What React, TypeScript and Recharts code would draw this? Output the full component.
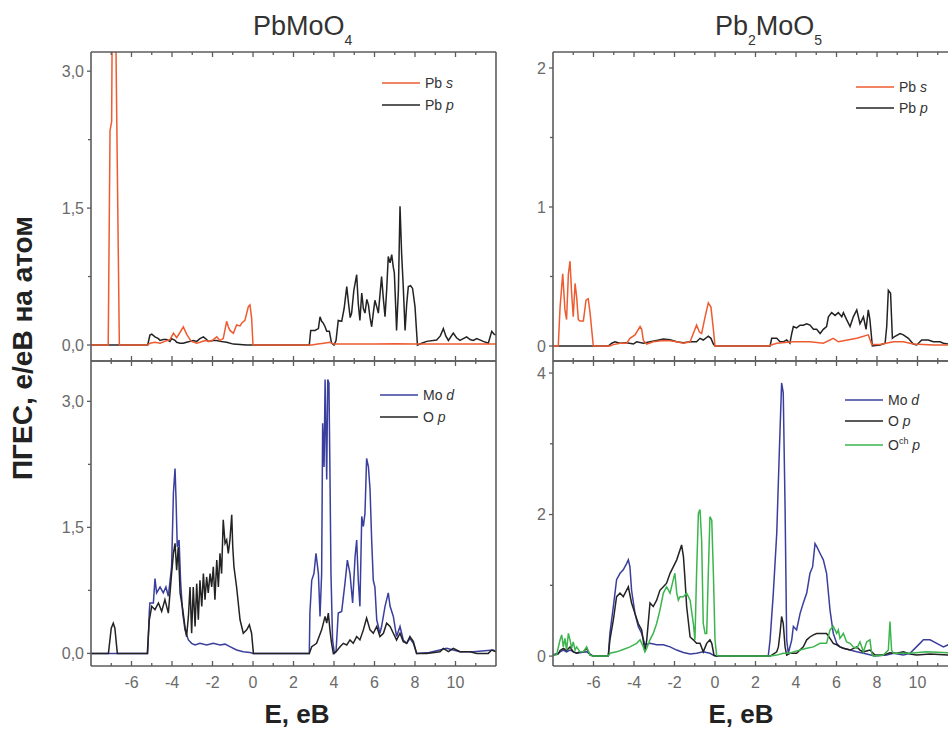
import React from 'react';
import { LineChart, Line, XAxis, YAxis } from 'recharts';

type Pt = [number, number];

// energy axis, eV
const energyTicks = [-7, -6, -5, -4, -3, -2, -1, 0, 1, 2, 3, 4, 5, 6, 7, 8, 9, 10, 11];

// PbMoO4, Pb states
const pbmoo4PbS: Pt[] = [
  [-8, 0], [-7.15, 0], [-7.06, 2.35], [-6.98, 2.45], [-6.93, 4.4], [-6.85, 4.3], [-6.77, 3.3], [-6.6, 0],
  [-5.2, 0], [-5.09, 0.02], [-4.84, 0.03], [-4.59, 0.02], [-4.35, 0.04], [-4.1, 0.06], [-3.93, 0.13],
  [-3.77, 0.08], [-3.6, 0.14], [-3.44, 0.2], [-3.28, 0.12], [-3.11, 0.06], [-3.03, 0.04], [-2.78, 0.02],
  [-2.62, 0.03], [-2.37, 0.05], [-2.12, 0.04], [-1.96, 0.06], [-1.79, 0.09], [-1.63, 0.05], [-1.47, 0.07],
  [-1.3, 0.26], [-1.22, 0.2], [-1.14, 0.16], [-0.97, 0.13], [-0.81, 0.22], [-0.64, 0.21], [-0.56, 0.24],
  [-0.4, 0.27], [-0.23, 0.42], [-0.15, 0.44], [-0.07, 0.3], [0, 0], [2.9, 0], [3.2, 0.01], [3.5, 0.02],
  [3.8, 0.03], [4.0, 0.01], [5, 0.01], [6, 0.01], [7, 0.015], [8, 0.01], [9, 0.01], [10, 0.01], [11, 0.01], [12, 0.01],
];
const pbmoo4PbP: Pt[] = [
  [-8, 0], [-5.2, 0], [-5.09, 0.11], [-5.0, 0.12], [-4.84, 0.09], [-4.67, 0.07], [-4.59, 0.05], [-4.43, 0.06],
  [-4.26, 0.06], [-4.1, 0.04], [-4.02, 0.07], [-3.85, 0.05], [-3.77, 0.03], [-3.6, 0.02], [-3.44, 0.02],
  [-3.28, 0.03], [-3.11, 0.04], [-2.95, 0.05], [-2.78, 0.04], [-2.62, 0.07], [-2.45, 0.09], [-2.29, 0.06],
  [-2.21, 0.04], [-1.96, 0.05], [-1.79, 0.05], [-1.63, 0.04], [-1.3, 0.03], [-0.97, 0.01], [-0.64, 0.005],
  [-0.31, 0], [2.78, 0], [2.85, 0.16], [3.06, 0.16], [3.23, 0.18], [3.31, 0.31], [3.39, 0.26], [3.47, 0.24],
  [3.56, 0.2], [3.64, 0.15], [3.77, 0.15], [3.88, 0.02], [4.0, 0], [4.1, 0.05], [4.21, 0.27], [4.38, 0.26],
  [4.5, 0.4], [4.63, 0.64], [4.72, 0.45], [4.8, 0.3], [4.87, 0.35], [4.98, 0.6], [5.12, 0.77], [5.2, 0.45],
  [5.28, 0.27], [5.37, 0.57], [5.45, 0.4], [5.53, 0.35], [5.62, 0.5], [5.7, 0.44], [5.78, 0.3], [5.86, 0.2],
  [5.94, 0.35], [6.02, 0.49], [6.11, 0.42], [6.19, 0.35], [6.27, 0.55], [6.35, 0.75], [6.44, 0.5],
  [6.52, 0.31], [6.6, 0.6], [6.68, 0.97], [6.77, 0.9], [6.85, 0.99], [6.93, 0.85], [6.98, 0.79], [7.05, 0.4],
  [7.09, 0.16], [7.18, 0.6], [7.26, 1.52], [7.34, 1.0], [7.42, 0.64], [7.51, 0.16], [7.59, 0.45], [7.67, 0.64],
  [7.78, 0.65], [7.88, 0.62], [8.0, 0.42], [8.12, 0], [8.33, 0.02], [8.58, 0.04], [9.07, 0.055], [9.25, 0.1],
  [9.4, 0.18], [9.52, 0.1], [9.65, 0.05], [9.89, 0.13], [10.05, 0.08], [10.22, 0.05], [10.55, 0.09],
  [10.72, 0.06], [10.88, 0.05], [11.05, 0.07], [11.37, 0.04], [11.62, 0.02], [11.79, 0.15], [11.9, 0.12], [12, 0.11],
];

// PbMoO4, Mo and O states
const pbmoo4MoD: Pt[] = [
  [-8, 0], [-5.2, 0], [-5.12, 0.5], [-5.09, 0.6], [-4.92, 0.6], [-4.84, 0.89], [-4.76, 0.72], [-4.59, 0.79],
  [-4.43, 0.72], [-4.3, 0.79], [-4.18, 0.68], [-4.02, 1.03], [-3.93, 1.91], [-3.85, 2.2], [-3.8, 1.83],
  [-3.74, 1.27], [-3.65, 1.35], [-3.57, 0.83], [-3.47, 0.48], [-3.36, 0.28], [-3.19, 0.16], [-3.03, 0.12],
  [-2.86, 0.1], [-2.62, 0.12], [-2.29, 0.1], [-1.96, 0.12], [-1.63, 0.1], [-1.38, 0.11], [-1.14, 0.08],
  [-0.81, 0.04], [-0.48, 0.02], [-0.15, 0.01], [0.02, 0], [2.78, 0], [2.81, 0.48], [2.9, 0.87], [3.01, 0.95],
  [3.11, 1.19], [3.23, 0.95], [3.31, 0.44], [3.39, 0.95], [3.44, 2.74], [3.51, 2.22], [3.56, 3.26],
  [3.64, 2.07], [3.69, 3.26], [3.75, 3.22], [3.8, 2.15], [3.85, 0.95], [3.93, 0.16], [4.02, 0], [4.1, 0.02],
  [4.21, 0.48], [4.38, 0.5], [4.54, 0.83], [4.66, 1.11], [4.79, 0.95], [4.92, 0.6], [5.04, 1.15], [5.12, 1.35],
  [5.2, 0.87], [5.28, 0.56], [5.37, 1.63], [5.45, 1.51], [5.53, 1.67], [5.61, 2.32], [5.7, 2.22], [5.78, 1.95],
  [5.86, 1.35], [5.94, 0.87], [6.02, 0.79], [6.11, 0.4], [6.19, 0.32], [6.27, 0.24], [6.35, 0.32], [6.52, 0.56],
  [6.68, 0.72], [6.77, 0.56], [6.93, 0.44], [7.09, 0.2], [7.26, 0.32], [7.42, 0.16], [7.59, 0.12], [7.75, 0.18],
  [7.92, 0.12], [8.08, 0], [8.7, 0.01], [9.23, 0.04], [9.56, 0.06], [9.89, 0.04], [10.22, 0.02], [10.88, 0.02],
  [11.87, 0.04], [12, 0.02],
];
const pbmoo4OP: Pt[] = [
  [-8, 0], [-7.14, 0], [-7.0, 0.3], [-6.9, 0.36], [-6.82, 0.3], [-6.7, 0], [-5.22, 0], [-5.12, 0.4], [-5.0, 0.56],
  [-4.84, 0.52], [-4.67, 0.6], [-4.51, 0.5], [-4.35, 0.64], [-4.18, 0.48], [-4.02, 0.95], [-3.93, 1.19],
  [-3.85, 1.31], [-3.77, 0.99], [-3.69, 1.27], [-3.6, 0.72], [-3.47, 0.52], [-3.36, 0.32], [-3.28, 0.2],
  [-3.19, 0.44], [-3.11, 0.79], [-3.03, 0.24], [-2.95, 0.79], [-2.86, 0.32], [-2.78, 0.83], [-2.7, 0.4],
  [-2.62, 0.87], [-2.53, 0.56], [-2.45, 0.95], [-2.37, 0.64], [-2.29, 0.91], [-2.21, 0.72], [-2.12, 0.95],
  [-2.04, 0.79], [-1.96, 1.03], [-1.88, 0.64], [-1.79, 1.11], [-1.71, 0.79], [-1.63, 1.19], [-1.55, 0.95],
  [-1.47, 1.59], [-1.38, 1.31], [-1.3, 1.35], [-1.22, 1.19], [-1.14, 1.35], [-1.05, 1.65], [-1.0, 1.27],
  [-0.94, 1.03], [-0.81, 0.79], [-0.64, 0.4], [-0.48, 0.24], [-0.31, 0.28], [-0.18, 0.34], [-0.07, 0.24],
  [0.02, 0], [2.78, 0], [2.9, 0.08], [3.14, 0.12], [3.39, 0.28], [3.56, 0.44], [3.64, 0.36], [3.72, 0.48],
  [3.8, 0.28], [3.88, 0.12], [3.97, 0], [4.1, 0.02], [4.3, 0.08], [4.46, 0.12], [4.63, 0.1], [4.79, 0.16],
  [4.95, 0.12], [5.12, 0.2], [5.28, 0.16], [5.45, 0.28], [5.61, 0.42], [5.78, 0.28], [5.94, 0.24], [6.11, 0.32],
  [6.27, 0.2], [6.44, 0.24], [6.6, 0.36], [6.77, 0.32], [6.93, 0.24], [7.09, 0.16], [7.26, 0.24], [7.42, 0.14],
  [7.59, 0.12], [7.75, 0.2], [7.92, 0.14], [8.08, 0], [8.58, 0], [9.23, 0.02], [9.4, 0.06], [9.65, 0.02],
  [9.89, 0.06], [10.22, 0.02], [10.72, 0.02], [11.05, 0], [11.62, 0], [11.79, 0.04], [12, 0.02],
];

// Pb2MoO5, Pb states
const pb2moo5PbS: Pt[] = [
  [-8, 0], [-7.74, 0], [-7.65, 0.28], [-7.52, 0.52], [-7.41, 0.26], [-7.33, 0.19], [-7.24, 0.52], [-7.16, 0.61],
  [-7.08, 0.38], [-7.0, 0.21], [-6.91, 0.45], [-6.83, 0.35], [-6.75, 0.19], [-6.67, 0.18], [-6.5, 0.18],
  [-6.37, 0.33], [-6.26, 0.34], [-6.17, 0.24], [-6.01, 0], [-5.19, 0], [-5.02, 0.01], [-4.69, 0.02],
  [-4.36, 0.02], [-4.2, 0.055], [-3.95, 0.08], [-3.7, 0.14], [-3.62, 0.12], [-3.54, 0.04], [-3.37, 0.014],
  [-3.05, 0.03], [-2.55, 0.04], [-2.22, 0.038], [-1.89, 0.03], [-1.56, 0.02], [-1.23, 0.03], [-0.99, 0.12],
  [-0.91, 0.15], [-0.77, 0.1], [-0.66, 0.09], [-0.49, 0.21], [-0.33, 0.31], [-0.2, 0.28], [-0.08, 0.12],
  [0, 0], [2.63, 0], [3.05, 0.02], [3.87, 0.03], [4.69, 0.03], [5.35, 0.02], [5.84, 0.055], [6.09, 0.03],
  [7.0, 0.055], [7.57, 0.08], [7.74, 0.01], [8.15, 0.01], [8.81, 0.03], [9.3, 0.03], [9.79, 0.015],
  [10.78, 0.007], [11.51, 0.007], [12, 0.007],
];
const pb2moo5PbP: Pt[] = [
  [-8, 0], [-5.27, 0], [-5.1, 0.02], [-4.94, 0.03], [-4.69, 0.02], [-4.36, 0.024], [-4.03, 0.014], [-3.87, 0.03],
  [-3.54, 0.02], [-3.21, 0.03], [-2.88, 0.04], [-2.55, 0.05], [-2.22, 0.045], [-1.89, 0.03], [-1.56, 0.024],
  [-1.23, 0.03], [-0.91, 0.03], [-0.74, 0.055], [-0.58, 0.043], [-0.33, 0.07], [-0.2, 0.055], [-0.08, 0.014],
  [0, 0], [2.72, 0], [2.8, 0.055], [3.05, 0.055], [3.21, 0.03], [3.37, 0.03], [3.54, 0.043], [3.7, 0.02],
  [3.79, 0.09], [3.87, 0.14], [4.03, 0.13], [4.2, 0.15], [4.36, 0.15], [4.53, 0.16], [4.69, 0.15], [4.86, 0.12],
  [5.02, 0.12], [5.19, 0.09], [5.35, 0.12], [5.51, 0.14], [5.6, 0.21], [5.76, 0.24], [5.93, 0.22], [6.09, 0.24],
  [6.26, 0.21], [6.34, 0.24], [6.5, 0.19], [6.67, 0.14], [6.83, 0.21], [7.0, 0.26], [7.16, 0.16], [7.33, 0.21],
  [7.46, 0.12], [7.57, 0.26], [7.65, 0.19], [7.77, 0], [8.15, 0.007], [8.4, 0.02], [8.48, 0.14], [8.56, 0.4],
  [8.67, 0.38], [8.76, 0.055], [8.89, 0.07], [9.14, 0.09], [9.3, 0.08], [9.55, 0.055], [9.79, 0.014],
  [9.96, 0.007], [10.21, 0.043], [10.53, 0.043], [10.78, 0.03], [11.11, 0.03], [11.28, 0.02], [11.51, 0.014], [12, 0.014],
];

// Pb2MoO5, Mo and O states (O^ch: chain oxygen)
const pb2moo5MoD: Pt[] = [
  [-8, 0.02], [-7.74, 0.04], [-7.65, 0.06], [-7.49, 0.085], [-7.33, 0.06], [-7.16, 0.085], [-6.83, 0.04],
  [-6.34, 0.06], [-6.01, 0], [-5.27, 0], [-5.19, 0.32], [-5.02, 0.7], [-4.86, 1.08], [-4.69, 1.17],
  [-4.53, 1.22], [-4.36, 1.31], [-4.28, 1.36], [-4.2, 1.26], [-4.12, 0.93], [-3.95, 0.6], [-3.79, 0.42],
  [-3.62, 0.32], [-3.46, 0.16], [-3.21, 0.18], [-2.88, 0.16], [-2.55, 0.16], [-2.22, 0.13], [-1.89, 0.085],
  [-1.56, 0.05], [-1.23, 0.03], [-0.91, 0.04], [-0.58, 0.06], [-0.25, 0.04], [0, 0], [2.63, 0], [2.72, 0.23],
  [2.88, 0.89], [3.05, 1.74], [3.18, 2.92], [3.29, 3.86], [3.37, 3.72], [3.46, 2.11], [3.54, 0.23], [3.62, 0.04],
  [3.79, 0.23], [3.87, 0.42], [4.03, 0.37], [4.2, 0.6], [4.36, 0.75], [4.53, 0.89], [4.69, 1.17], [4.82, 1.26],
  [4.94, 1.59], [5.02, 1.55], [5.19, 1.45], [5.35, 1.36], [5.51, 1.17], [5.68, 0.65], [5.84, 0.32], [6.01, 0.18],
  [6.17, 0.13], [6.34, 0.11], [6.67, 0.085], [7.0, 0.06], [7.33, 0.04], [7.9, 0], [8.48, 0.014], [8.81, 0.04],
  [9.3, 0.014], [9.63, 0.04], [10.12, 0.18], [10.29, 0.23], [10.62, 0.23], [10.95, 0.18], [11.28, 0.13],
  [11.51, 0.16], [12, 0.15],
];
const pb2moo5OP: Pt[] = [
  [-8, 0.01], [-7.74, 0.03], [-7.65, 0.08], [-7.49, 0.11], [-7.33, 0.08], [-7.16, 0.13], [-7.0, 0.06],
  [-6.83, 0.04], [-6.67, 0.06], [-6.5, 0.06], [-6.34, 0.11], [-6.17, 0.014], [-6.01, 0], [-5.27, 0],
  [-5.19, 0.23], [-5.02, 0.51], [-4.86, 0.84], [-4.69, 0.89], [-4.53, 0.84], [-4.44, 0.89], [-4.28, 0.98],
  [-4.12, 0.75], [-3.95, 0.6], [-3.79, 0.46], [-3.62, 0.37], [-3.46, 0.06], [-3.37, 0.23], [-3.21, 0.75],
  [-3.05, 0.7], [-2.88, 0.79], [-2.72, 0.93], [-2.55, 0.98], [-2.39, 1.03], [-2.22, 1.17], [-2.06, 1.26],
  [-1.89, 1.36], [-1.73, 1.5], [-1.65, 1.57], [-1.56, 1.41], [-1.48, 1.08], [-1.4, 0.7], [-1.23, 0.27],
  [-1.07, 0.23], [-0.91, 0.18], [-0.74, 0.18], [-0.58, 0.06], [-0.41, 0.18], [-0.25, 0.23], [-0.16, 0.18],
  [-0.05, 0.014], [0.08, 0], [2.72, 0], [2.8, 0.014], [3.05, 0.06], [3.13, 0.13], [3.21, 0.32], [3.29, 0.56],
  [3.37, 0.46], [3.46, 0.13], [3.54, 0.014], [3.7, 0.04], [4.03, 0.04], [4.36, 0.13], [4.53, 0.23], [4.69, 0.27],
  [4.86, 0.3], [5.02, 0.32], [5.19, 0.32], [5.35, 0.32], [5.51, 0.32], [5.68, 0.25], [5.84, 0.18], [6.01, 0.16],
  [6.17, 0.13], [6.34, 0.11], [6.67, 0.085], [7.0, 0.13], [7.16, 0.085], [7.33, 0.06], [7.65, 0.085],
  [7.9, 0.014], [8.31, 0.014], [8.64, 0.047], [8.97, 0.04], [9.3, 0.06], [9.63, 0.03], [9.96, 0.014],
  [10.62, 0.03], [11.51, 0.014], [12, 0.014],
];
const pb2moo5OchP: Pt[] = [
  [-8, 0.01], [-7.82, 0.02], [-7.65, 0.23], [-7.57, 0.3], [-7.49, 0.13], [-7.41, 0.25], [-7.33, 0.085],
  [-7.24, 0.32], [-7.16, 0.23], [-7.08, 0.11], [-7.0, 0.2], [-6.91, 0.085], [-6.83, 0.13], [-6.67, 0.06],
  [-6.5, 0.06], [-6.34, 0.13], [-6.17, 0.014], [-6.01, 0], [-5.27, 0], [-5.19, 0.04], [-4.86, 0.06],
  [-4.53, 0.094], [-4.2, 0.13], [-3.87, 0.18], [-3.7, 0.23], [-3.54, 0.13], [-3.46, 0.06], [-3.37, 0.11],
  [-3.21, 0.23], [-3.05, 0.32], [-2.88, 0.46], [-2.72, 0.65], [-2.55, 0.89], [-2.39, 0.98], [-2.22, 0.89],
  [-2.06, 1.08], [-1.98, 1.17], [-1.89, 0.89], [-1.81, 0.79], [-1.73, 0.84], [-1.56, 0.84], [-1.4, 0.89],
  [-1.23, 0.79], [-1.07, 0.46], [-0.99, 0.23], [-0.91, 1.17], [-0.82, 2.02], [-0.74, 2.07], [-0.66, 1.64],
  [-0.58, 0.46], [-0.49, 0.32], [-0.41, 0.32], [-0.33, 1.17], [-0.25, 1.97], [-0.16, 1.92], [-0.08, 1.17],
  [0, 0.23], [0.08, 0.014], [0.2, 0], [2.72, 0], [3.05, 0.014], [3.37, 0.04], [3.7, 0.04], [3.87, 0.06],
  [4.2, 0.085], [4.53, 0.11], [4.86, 0.13], [5.19, 0.18], [5.51, 0.18], [5.68, 0.37], [5.84, 0.42], [6.01, 0.32],
  [6.09, 0.37], [6.17, 0.25], [6.34, 0.32], [6.5, 0.2], [6.67, 0.18], [6.83, 0.13], [7.0, 0.11], [7.16, 0.2],
  [7.33, 0.06], [7.49, 0.2], [7.65, 0.23], [7.74, 0.04], [7.82, 0], [8.31, 0.014], [8.56, 0.085], [8.64, 0.49],
  [8.72, 0.085], [8.81, 0.04], [9.63, 0.04], [10.45, 0.06], [11.51, 0.047], [12, 0.047],
];

const RED = '#ee5b30';
const BLACK = '#232323';
const BLUE = '#3a3f9e';
const GREEN = '#3db54e';
const FRAME = '#5c5c5c';
const TICK_TEXT = '#6a6a6a';
const FONT = "'Liberation Sans', Arial, sans-serif";

const Y_AXIS_W = 60;
const X_AXIS_H = 30;
// the top and right frame axes need a non-zero size or they are not drawn
const EDGE = 1;

interface Curve {
  key: string;
  color: string;
  points: Pt[];
}

interface PanelProps {
  left: number;
  top: number;
  width: number;
  height: number;
  yDomain: [number, number];
  yTicks: number[];
  yLabelled: number[];
  yFormat: (v: number) => string;
  curves: Curve[];
  energyText: boolean;
}

const toRows = (pts: Pt[]) => pts.map(([e, v]) => ({ e, v }));

const Panel = ({ left, top, width, height, yDomain, yTicks, yLabelled, yFormat, curves, energyText }: PanelProps) => {
  // ticks at the bottom point up into the plot, optional labels below
  const bottomTick = (p: any) => {
    const v = p.payload.value;
    const major = v % 2 === 0;
    return (
      <g>
        <line x1={p.x} x2={p.x} y1={p.y} y2={p.y - (major ? 5 : 3)} stroke={FRAME} strokeWidth={1.3} />
        {energyText && major && (
          <text x={p.x} y={p.y + 22} textAnchor="middle" fontSize={16} fill={TICK_TEXT} fontFamily={FONT}>
            {v}
          </text>
        )}
      </g>
    );
  };
  const topTick = (p: any) => {
    const major = p.payload.value % 2 === 0;
    return <line x1={p.x} x2={p.x} y1={p.y} y2={p.y + (major ? 5 : 3)} stroke={FRAME} strokeWidth={1.3} />;
  };
  const leftTick = (p: any) => {
    const v = p.payload.value;
    const major = yLabelled.includes(v);
    return (
      <g>
        <line x1={p.x} x2={p.x - (major ? 4 : 3)} y1={p.y} y2={p.y} stroke={FRAME} strokeWidth={1.3} />
        {major && (
          <text x={p.x - 7} y={p.y} dy="0.35em" textAnchor="end" fontSize={16} fill={TICK_TEXT} fontFamily={FONT}>
            {yFormat(v)}
          </text>
        )}
      </g>
    );
  };

  return (
    <div style={{ position: 'absolute', left: left - Y_AXIS_W, top: top - EDGE }}>
      <LineChart
        width={width + Y_AXIS_W + EDGE}
        height={height + X_AXIS_H + EDGE}
        margin={{ top: 0, right: 0, bottom: 0, left: 0 }}
      >
        <XAxis
          xAxisId="b"
          dataKey="e"
          type="number"
          domain={[-8, 12]}
          allowDataOverflow
          ticks={energyTicks}
          interval={0}
          height={X_AXIS_H}
          tickSize={0}
          tickMargin={0}
          tickLine={false}
          axisLine={{ stroke: FRAME, strokeWidth: 1.6 }}
          tick={bottomTick}
        />
        <XAxis
          xAxisId="t"
          orientation="top"
          dataKey="e"
          type="number"
          domain={[-8, 12]}
          allowDataOverflow
          ticks={energyTicks}
          interval={0}
          height={EDGE}
          tickSize={0}
          tickMargin={0}
          tickLine={false}
          axisLine={{ stroke: FRAME, strokeWidth: 1.6 }}
          tick={topTick}
        />
        <YAxis
          yAxisId="l"
          type="number"
          domain={yDomain}
          allowDataOverflow
          ticks={yTicks}
          interval={0}
          width={Y_AXIS_W}
          tickSize={0}
          tickMargin={0}
          tickLine={false}
          axisLine={{ stroke: FRAME, strokeWidth: 1.6 }}
          tick={leftTick}
        />
        <YAxis
          yAxisId="r"
          orientation="right"
          type="number"
          domain={yDomain}
          allowDataOverflow
          ticks={yTicks}
          width={EDGE}
          tickSize={0}
          tick={() => <g />}
          tickLine={false}
          axisLine={{ stroke: FRAME, strokeWidth: 1.6 }}
        />
        {curves.map((c) => (
          <Line
            key={c.key}
            xAxisId="b"
            yAxisId="l"
            data={toRows(c.points)}
            dataKey="v"
            type="linear"
            stroke={c.color}
            strokeWidth={1.5}
            dot={false}
            activeDot={false}
            isAnimationActive={false}
          />
        ))}
      </LineChart>
    </div>
  );
};

interface LegendRow {
  color: string;
  label: React.ReactNode;
  dy: number;
}

const LegendBox = ({ x, y, rows }: { x: number; y: number; rows: LegendRow[] }) => (
  <g fontFamily={FONT} fontSize={14} fill="#333">
    {rows.map((r, i) => (
      <g key={i}>
        <line x1={x} x2={x + 38} y1={y + r.dy} y2={y + r.dy} stroke={r.color} strokeWidth={1.6} />
        <text x={x + 43} y={y + r.dy} dy="0.35em">
          {r.label}
        </text>
      </g>
    ))}
  </g>
);

const comma = (v: number) => v.toFixed(1).replace('.', ',');
const plain = (v: number) => String(v);

export default function App() {
  return (
    <div
      style={{
        position: 'fixed',
        left: 0,
        top: 0,
        width: 948,
        height: 731,
        overflow: 'hidden',
        background: '#fff',
      }}
    >
      <Panel
        left={91}
        top={52}
        width={405}
        height={309}
        yDomain={[-0.175, 3.21]}
        yTicks={[0, 0.75, 1.5, 2.25, 3]}
        yLabelled={[0, 1.5, 3]}
        yFormat={comma}
        energyText={false}
        curves={[
          { key: 'pbp', color: BLACK, points: pbmoo4PbP },
          { key: 'pbs', color: RED, points: pbmoo4PbS },
        ]}
      />
      <Panel
        left={91}
        top={361}
        width={405}
        height={305}
        yDomain={[-0.15, 3.48]}
        yTicks={[0, 0.75, 1.5, 2.25, 3]}
        yLabelled={[0, 1.5, 3]}
        yFormat={comma}
        energyText
        curves={[
          { key: 'mod', color: BLUE, points: pbmoo4MoD },
          { key: 'op', color: BLACK, points: pbmoo4OP },
        ]}
      />
      <Panel
        left={553}
        top={52}
        width={405}
        height={309}
        yDomain={[-0.108, 2.115]}
        yTicks={[0, 0.5, 1, 1.5, 2]}
        yLabelled={[0, 1, 2]}
        yFormat={plain}
        energyText={false}
        curves={[
          { key: 'pbp', color: BLACK, points: pb2moo5PbP },
          { key: 'pbs', color: RED, points: pb2moo5PbS },
        ]}
      />
      <Panel
        left={553}
        top={361}
        width={405}
        height={305}
        yDomain={[-0.14, 4.17]}
        yTicks={[0, 1, 2, 3, 4]}
        yLabelled={[0, 2, 4]}
        yFormat={plain}
        energyText
        curves={[
          { key: 'mod', color: BLUE, points: pb2moo5MoD },
          { key: 'op', color: BLACK, points: pb2moo5OP },
          { key: 'ochp', color: GREEN, points: pb2moo5OchP },
        ]}
      />

      <svg width={948} height={731} style={{ position: 'absolute', left: 0, top: 0, pointerEvents: 'none' }}>
        <g fontFamily={FONT} fill="#333">
          <text x={253} y={35} fontSize={27}>
            PbMoO<tspan fontSize={14} dy={10}>4</tspan>
          </text>
          <text x={715} y={35} fontSize={27}>
            Pb<tspan fontSize={14} dy={10}>2</tspan>
            <tspan dy={-10}>MoO</tspan>
            <tspan fontSize={14} dy={10}>5</tspan>
          </text>
        </g>
        <g fontFamily={FONT} fontWeight="bold" fill="#222">
          <text transform="translate(32,348) rotate(-90)" textAnchor="middle" fontSize={28}>
            ПГЕС, е/еВ на атом
          </text>
          <text x={297} y={723} textAnchor="middle" fontSize={26}>
            E, еВ
          </text>
          <text x={741} y={723} textAnchor="middle" fontSize={26}>
            E, еВ
          </text>
        </g>

        <LegendBox
          x={382}
          y={83}
          rows={[
            { color: RED, dy: 0, label: <>Pb <tspan fontStyle="italic">s</tspan></> },
            { color: BLACK, dy: 22, label: <>Pb <tspan fontStyle="italic">p</tspan></> },
          ]}
        />
        <LegendBox
          x={380}
          y={395}
          rows={[
            { color: BLUE, dy: 0, label: <>Mo <tspan fontStyle="italic">d</tspan></> },
            { color: BLACK, dy: 22, label: <>O <tspan fontStyle="italic">p</tspan></> },
          ]}
        />
        <LegendBox
          x={856}
          y={87}
          rows={[
            { color: RED, dy: 0, label: <>Pb <tspan fontStyle="italic">s</tspan></> },
            { color: BLACK, dy: 21, label: <>Pb <tspan fontStyle="italic">p</tspan></> },
          ]}
        />
        <LegendBox
          x={845}
          y={400}
          rows={[
            { color: BLUE, dy: 0, label: <>Mo <tspan fontStyle="italic">d</tspan></> },
            { color: BLACK, dy: 21, label: <>O <tspan fontStyle="italic">p</tspan></> },
            {
              color: GREEN,
              dy: 45,
              label: (
                <>
                  O<tspan fontSize={9} dy={-6}>ch</tspan>
                  <tspan dy={6}> </tspan>
                  <tspan fontStyle="italic">p</tspan>
                </>
              ),
            },
          ]}
        />
      </svg>
    </div>
  );
}
